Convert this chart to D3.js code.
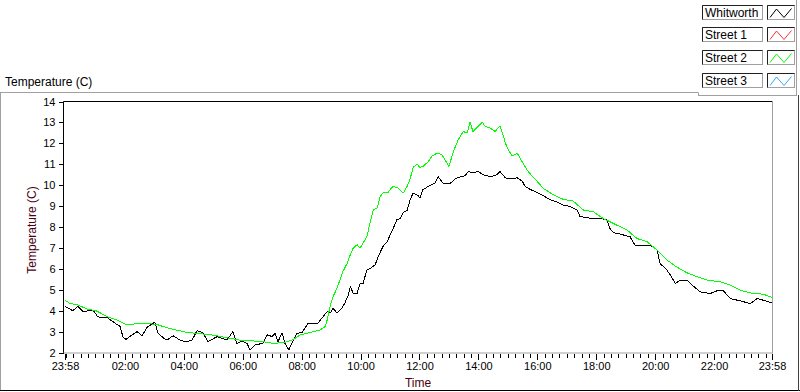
<!DOCTYPE html>
<html>
<head>
<meta charset="utf-8">
<script src="https://cdn.jsdelivr.net/npm/d3@7"></script>
<style>
  body { margin: 0; background: #fff; }
  svg { display: block; font-family: "Liberation Sans", Arial, sans-serif; }
</style>
</head>
<body>
<div id="chart"></div>
<script>
// minutes after 23:58 (start of the record), temperature in C
const whitworth = [[0,4.2],[16,4.0],[26,4.2],[37,3.95],[57,4.03],[67,3.7],[86,3.67],[102,3.4],[112,3.25],[118,2.75],
  [124,2.62],[137,2.85],[147,3.0],[157,2.8],[167,3.2],[183,3.45],[189,2.95],[200,2.7],[208,2.6],[220,2.8],
  [234,2.6],[245,2.5],[259,2.6],[269,3.05],[281,2.95],[291,2.52],[310,2.76],[330,2.6],[342,3.0],[350,2.43],
  [361,2.55],[371,2.42],[377,2.12],[387,2.36],[403,2.44],[412,2.84],[422,2.76],[428,2.92],[434,2.52],[442,2.95],
  [448,2.44],[456,2.12],[465,2.6],[473,2.92],[483,2.95],[495,3.4],[505,3.4],[515,3.4],[526,3.72],[534,3.96],
  [540,3.88],[546,4.12],[554,3.88],[564,4.12],[570,4.36],[577,4.75],[581,5.15],[587,4.83],[595,4.83],[601,5.3],
  [607,5.3],[615,5.95],[621,6.0],[632,6.2],[638,6.6],[648,7.08],[656,7.3],[662,7.6],[668,7.9],[676,8.35],
  [683,8.4],[689,8.7],[697,8.8],[703,9.3],[709,9.62],[719,9.5],[723,9.38],[729,9.78],[744,10.0],[754,10.1],
  [760,10.4],[770,10.1],[784,10.07],[795,10.3],[805,10.4],[815,10.45],[821,10.65],[831,10.6],[841,10.65],[852,10.5],
  [866,10.4],[880,10.5],[886,10.65],[897,10.35],[907,10.3],[921,10.35],[931,10.2],[937,9.95],[947,9.8],[962,9.65],
  [974,9.5],[988,9.3],[1002,9.2],[1015,9.05],[1029,8.98],[1043,8.82],[1049,8.5],[1070,8.42],[1090,8.42],[1104,8.33],
  [1110,7.93],[1117,7.73],[1131,7.66],[1151,7.53],[1161,7.13],[1178,7.13],[1192,7.13],[1206,6.9],[1212,6.26],[1226,5.94],
  [1233,5.7],[1243,5.3],[1253,5.46],[1267,5.46],[1280,5.17],[1294,4.9],[1314,4.82],[1328,4.95],[1341,4.95],[1355,4.58],
  [1375,4.47],[1396,4.34],[1410,4.58],[1422,4.5],[1440,4.37]];

const street2 = [[0,4.5],[10,4.35],[26,4.27],[45,4.08],[65,3.98],[86,3.71],[106,3.55],[126,3.31],[147,3.39],[167,3.39],
  [187,3.34],[208,3.18],[228,3.07],[249,2.96],[269,2.91],[289,2.87],[310,2.8],[330,2.7],[357,2.59],[371,2.57],
  [403,2.52],[424,2.44],[444,2.47],[454,2.52],[465,2.63],[479,2.84],[499,2.95],[520,3.08],[530,3.24],[534,3.56],
  [540,4.2],[546,4.68],[554,5.07],[560,5.47],[566,5.87],[575,6.27],[581,6.67],[587,6.99],[595,7.15],[601,6.99],
  [607,7.23],[615,7.55],[621,8.19],[628,8.83],[636,8.91],[642,9.47],[648,9.63],[658,9.66],[668,9.95],[678,9.87],
  [689,9.63],[697,9.95],[703,10.3],[709,10.85],[717,11.0],[723,10.85],[729,10.89],[740,11.13],[748,11.4],[758,11.53],
  [768,11.45],[774,11.21],[782,10.89],[791,11.61],[801,12.17],[811,12.57],[819,12.49],[825,13.0],[831,12.57],[841,12.81],
  [850,13.0],[856,12.81],[866,12.73],[876,12.57],[886,12.84],[892,12.41],[897,12.01],[903,11.69],[911,11.4],[921,11.53],
  [931,11.13],[941,10.73],[952,10.41],[962,10.17],[974,9.85],[988,9.64],[1002,9.45],[1015,9.32],[1035,9.24],[1056,8.81],
  [1076,8.73],[1096,8.41],[1117,8.17],[1145,7.85],[1165,7.45],[1186,7.29],[1206,6.9],[1226,6.42],[1247,6.07],[1267,5.81],
  [1288,5.62],[1308,5.46],[1335,5.38],[1355,5.22],[1375,4.98],[1402,4.82],[1422,4.79],[1440,4.63]];

const tickMinutes = [0, 122, 242, 362, 482, 602, 722, 842, 962, 1082, 1202, 1322, 1440];
const tickLabels = ['23:58', '02:00', '04:00', '06:00', '08:00', '10:00', '12:00', '14:00', '16:00', '18:00', '20:00', '22:00', '23:58'];
const yTicks = [2, 3, 4, 5, 6, 7, 8, 9, 10, 11, 12, 13, 14];
const legendNames = ['Whitworth', 'Street 1', 'Street 2', 'Street 3'];
const legendColors = ['#000000', '#ff3030', '#00ff00', '#30aaff'];

const width = 800, height = 392;
const plotL = 63.5, plotR = 772.5, plotT = 101.5, plotB = 352.5;
const gray = '#a0a0a0', titleColor = '#4a0010';

const svg = d3.select('#chart').append('svg')
    .attr('width', width)
    .attr('height', height);

/* scales */
const xScale = d3.scaleLinear().domain([0, 1440]).range([65, 772]);
const yScale = d3.scaleLinear().domain([2, 14]).range([plotB, plotT]);

/* outer panel */
svg.append('line').attr('x1', 0).attr('x2', 698).attr('y1', 92.5).attr('y2', 92.5).attr('stroke', gray);
svg.append('line').attr('x1', 0.5).attr('x2', 0.5).attr('y1', 92.5).attr('y2', 390).attr('stroke', gray);
svg.append('line').attr('x1', 0).attr('x2', 800).attr('y1', 390.5).attr('y2', 390.5).attr('stroke', '#000');
svg.append('line').attr('x1', 798.5).attr('x2', 798.5).attr('y1', 95).attr('y2', 391).attr('stroke', '#404040');

/* graph label */
svg.append('text')
    .text('Temperature (C)')
    .attr('x', 5)
    .attr('y', 86)
    .attr('font-size', 12)
    .attr('fill', '#000');

/* plot frame */
svg.append('line').attr('x1', plotL).attr('x2', plotR).attr('y1', plotT).attr('y2', plotT).attr('stroke', '#000');
svg.append('line').attr('x1', plotL).attr('x2', plotL).attr('y1', plotT).attr('y2', plotB + 0.5).attr('stroke', '#000');
svg.append('line').attr('x1', plotR).attr('x2', plotR).attr('y1', plotT).attr('y2', plotB + 1).attr('stroke', gray);
svg.append('line').attr('x1', plotL).attr('x2', plotR).attr('y1', plotB + 0.5).attr('y2', plotB + 0.5).attr('stroke', gray);

/* y axis */
const yAxis = svg.append('g')
    .attr('transform', `translate(${plotL},0)`)
    .call(d3.axisLeft(yScale).tickValues(yTicks).tickSize(5).tickPadding(3));
yAxis.select('.domain').remove();
yAxis.selectAll('line').attr('stroke', '#000').attr('shape-rendering', 'crispEdges');
yAxis.selectAll('text').attr('font-size', 11).attr('font-family', '"Liberation Sans", Arial').attr('fill', '#000');

/* x axis, minor ticks every 15 minutes from 00:00 */
const minorTicks = d3.range(2, 1440, 15);
const xMinor = svg.append('g')
    .attr('transform', `translate(0,${plotB + 1})`)
    .call(d3.axisBottom(xScale).tickValues(minorTicks).tickSize(4).tickFormat(''));
xMinor.select('.domain').remove();
xMinor.selectAll('line').attr('stroke', '#000').attr('shape-rendering', 'crispEdges');

const xAxis = svg.append('g')
    .attr('transform', `translate(0,${plotB + 1})`)
    .call(d3.axisBottom(xScale).tickValues(tickMinutes).tickSize(6).tickPadding(3)
        .tickFormat((d, i) => tickLabels[i]));
xAxis.select('.domain').remove();
xAxis.selectAll('line').attr('stroke', '#000').attr('shape-rendering', 'crispEdges');
xAxis.selectAll('text').attr('font-size', 11).attr('font-family', '"Liberation Sans", Arial').attr('fill', '#000');

/* axis titles */
svg.append('text')
    .text('Time')
    .attr('x', (plotL + plotR) / 2)
    .attr('y', 387)
    .attr('text-anchor', 'middle')
    .attr('font-size', 12)
    .attr('fill', titleColor);

svg.append('text')
    .text('Temperature (C)')
    .attr('transform', `translate(36,${(plotT + plotB) / 2 + 3}) rotate(-90)`)
    .attr('text-anchor', 'middle')
    .attr('font-size', 12)
    .attr('fill', titleColor);

/* lines, drawn without anti-aliasing like the original graph */
const line = d3.line()
    .x(d => xScale(d[0]))
    .y(d => yScale(d[1]));

svg.append('path')
    .datum(whitworth)
    .attr('fill', 'none')
    .attr('stroke', legendColors[0])
    .attr('stroke-width', 1)
    .attr('shape-rendering', 'crispEdges')
    .attr('d', line);

svg.append('path')
    .datum(street2)
    .attr('fill', 'none')
    .attr('stroke', legendColors[2])
    .attr('stroke-width', 1)
    .attr('shape-rendering', 'crispEdges')
    .attr('d', line);

/* legend */
svg.append('line').attr('x1', 796.5).attr('x2', 796.5).attr('y1', 0).attr('y2', 95).attr('stroke', gray);
svg.append('line').attr('x1', 698).attr('x2', 797).attr('y1', 95.5).attr('y2', 95.5).attr('stroke', gray);
svg.append('line').attr('x1', 698.5).attr('x2', 698.5).attr('y1', 92.5).attr('y2', 95.5).attr('stroke', gray);

const rowH = 22.7;
legendNames.forEach((name, i) => {
    const y0 = 4.5 + i * rowH;
    const g = svg.append('g').attr('transform', `translate(0,${Math.round(y0) + 0.5})`);
    // name box
    g.append('rect').attr('x', 702.5).attr('y', 0).attr('width', 60).attr('height', 14)
        .attr('fill', '#fff').attr('stroke', gray);
    g.append('path').attr('d', 'M702.5,14V0H762.5').attr('fill', 'none').attr('stroke', '#202020');
    g.append('text').text(name).attr('x', 705).attr('y', 11.5)
        .attr('font-size', 12).attr('fill', '#000');
    // swatch box
    g.append('rect').attr('x', 767.5).attr('y', 0).attr('width', 27).attr('height', 14)
        .attr('fill', '#fff').attr('stroke', gray);
    g.append('path').attr('d', 'M767.5,14V0H794.5').attr('fill', 'none').attr('stroke', '#202020');
    g.append('path')
        .attr('d', 'M770,12L776.5,3.5L784,12L791.5,3')
        .attr('fill', 'none')
        .attr('stroke', legendColors[i])
        .attr('stroke-width', 1);
});
</script>
</body>
</html>
